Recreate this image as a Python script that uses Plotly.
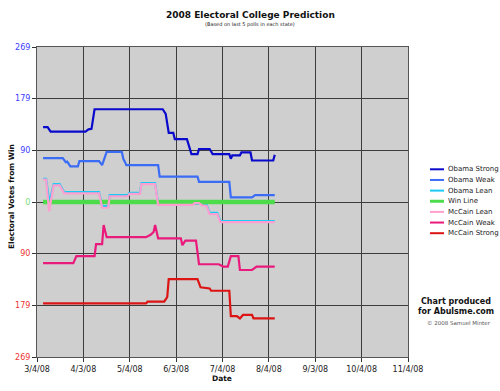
import plotly.graph_objects as go
from datetime import date, timedelta

# ---------------- data ----------------
series_names = ["Obama Strong", "Obama Weak", "Obama Lean", "Win Line",
                "McCain Lean", "McCain Weak", "McCain Strong"]

obama_strong_dates = ["2008-03-08", "2008-03-11", "2008-03-13", "2008-04-05", "2008-04-07", "2008-04-09",
                      "2008-04-11", "2008-05-26", "2008-05-28", "2008-05-30", "2008-06-02", "2008-06-03",
                      "2008-06-11", "2008-06-14", "2008-06-18", "2008-06-19", "2008-06-26", "2008-06-28",
                      "2008-07-09", "2008-07-10", "2008-07-11", "2008-07-16", "2008-07-17", "2008-07-23",
                      "2008-07-24", "2008-08-07", "2008-08-08"]
obama_strong_values = [130, 130, 122, 122, 126, 127, 161, 161, 153, 120, 120, 109,
                       109, 83, 83, 92, 92, 83, 83, 75, 81, 81, 86, 86, 72, 72, 82]

obama_weak_dates = ["2008-03-08", "2008-03-21", "2008-03-23", "2008-03-24", "2008-03-26", "2008-03-31",
                    "2008-04-01", "2008-04-14", "2008-04-16", "2008-04-19", "2008-04-29", "2008-04-30",
                    "2008-05-01", "2008-05-02", "2008-05-23", "2008-05-24", "2008-06-18", "2008-06-19",
                    "2008-07-09", "2008-07-10", "2008-07-24", "2008-07-26", "2008-08-08"]
obama_weak_values = [76, 76, 69, 70, 62, 62, 71, 71, 64, 87, 87, 75, 70, 64, 64, 44, 44, 35,
                     35, 8, 8, 12, 12]

obama_lean_dates = ["2008-03-08", "2008-03-10", "2008-03-12", "2008-03-13", "2008-03-15", "2008-03-19",
                    "2008-03-22", "2008-04-14", "2008-04-16", "2008-04-20", "2008-04-21", "2008-05-03",
                    "2008-05-04", "2008-05-11", "2008-05-12", "2008-05-21", "2008-05-23", "2008-06-21",
                    "2008-06-24", "2008-06-26", "2008-07-01", "2008-07-03", "2008-08-08"]
obama_lean_values = [40, 40, 3, 8, 31, 31, 17, 17, -7, -7, 12, 12, 16, 16, 33, 33, -3, -3,
                     -5, -19, -19, -33, -33]

win_line_dates = ["2008-03-08", "2008-08-08"]
win_line_values = [0, 0]

mccain_lean_dates = ["2008-03-08", "2008-03-10", "2008-03-12", "2008-03-13", "2008-03-15", "2008-03-19",
                     "2008-03-22", "2008-04-14", "2008-04-16", "2008-04-20", "2008-04-21", "2008-05-03",
                     "2008-05-04", "2008-05-11", "2008-05-12", "2008-05-21", "2008-05-23", "2008-06-15",
                     "2008-06-16", "2008-06-19", "2008-06-21", "2008-06-24", "2008-06-26", "2008-07-01",
                     "2008-07-03", "2008-08-08"]
mccain_lean_values = [39, 39, -16, 2, 29, 29, 15, 15, -10, -10, 10, 10, 14, 14, 31, 31, -5, -5,
                      -2, -2, -6, -7, -21, -21, -35, -35]

mccain_weak_dates = ["2008-03-08", "2008-03-28", "2008-03-30", "2008-04-11", "2008-04-12", "2008-04-16",
                     "2008-04-17", "2008-04-19", "2008-05-15", "2008-05-18", "2008-05-20", "2008-05-21",
                     "2008-05-23", "2008-06-07", "2008-06-08", "2008-06-10", "2008-06-17", "2008-06-19",
                     "2008-07-02", "2008-07-05", "2008-07-08", "2008-07-10", "2008-07-15", "2008-07-16",
                     "2008-07-24", "2008-07-27", "2008-08-08"]
mccain_weak_values = [-106, -106, -94, -94, -73, -73, -40, -61, -61, -57, -52, -40,
                      -63, -63, -75, -67, -67, -108, -108, -112, -112, -94, -94, -118,
                      -118, -112, -112]

mccain_strong_dates = ["2008-03-08", "2008-05-15", "2008-05-16", "2008-05-27", "2008-05-29", "2008-05-30",
                       "2008-06-18", "2008-06-20", "2008-06-26", "2008-06-27", "2008-07-09", "2008-07-10",
                       "2008-07-14", "2008-07-16", "2008-07-18", "2008-07-24", "2008-07-25", "2008-08-08"]
mccain_strong_values = [-176, -176, -173, -173, -165, -134, -134, -148, -150, -154, -154, -198,
                        -198, -202, -196, -196, -202, -202]

x_tick_labels = ["3/4/08", "4/3/08", "5/4/08", "6/3/08", "7/4/08", "8/4/08", "9/3/08", "10/4/08", "11/4/08"]
y_tick_values = [269, 179.33, 89.67, 0, -89.67, -179.33, -269]
y_tick_labels = ["269", "179", "90", "0", "90", "179", "269"]

# ---------------- styling ----------------
colors = ["#0a0acc", "#3a6cf6", "#1ccaf6", "#4cdc4c", "#ff9fd0", "#ea1a7c", "#dc1414"]
widths = [2.2, 2.2, 2.2, 4.5, 2.2, 2.2, 2.2]
label_colors = ["#3b3bff", "#3b3bff", "#3b3bff", "#7ce07c", "#ee3333", "#ee3333", "#ee3333"]

all_dates = [obama_strong_dates, obama_weak_dates, obama_lean_dates, win_line_dates,
             mccain_lean_dates, mccain_weak_dates, mccain_strong_dates]
all_values = [obama_strong_values, obama_weak_values, obama_lean_values, win_line_values,
              mccain_lean_values, mccain_weak_values, mccain_strong_values]

FONT = "DejaVu Sans"

fig = go.Figure()
for name, d, v, c, w in zip(series_names, all_dates, all_values, colors, widths):
    fig.add_trace(go.Scatter(x=d, y=v, mode="lines", name=name,
                             line=dict(color=c, width=w), showlegend=False))

start = date(2008, 3, 4)
span = (date(2008, 11, 4) - start).days
tickvals = []
for i in range(9):
    d = span * i / 8
    base = start + timedelta(days=int(d))
    hours = int(round((d - int(d)) * 24))
    tickvals.append(f"{base.isoformat()} {hours:02d}:00")

# plot area geometry in pixels
L, R, T, B = 37, 408, 47, 357
W, H = 500, 391


def px(x):
    return (x - L) / (R - L)


def py(y):
    return (B - y) / (B - T)


grid = "#3c3c3c"
fig.update_layout(
    width=W, height=H,
    margin=dict(l=L, r=W - R, t=T, b=H - B, pad=0),
    paper_bgcolor="white", plot_bgcolor="#cfcfcf",
    font=dict(family=FONT, size=8, color="#222"),
    xaxis=dict(type="date", range=[tickvals[0], tickvals[-1]],
               tickvals=tickvals, ticktext=x_tick_labels, automargin=False,
               showgrid=True, gridcolor=grid, gridwidth=1,
               showline=True, linecolor="#555", linewidth=1, mirror=True,
               ticks="outside", ticklen=4, tickcolor="#333",
               tickfont=dict(size=8, family=FONT, color="#222"), zeroline=False),
    yaxis=dict(range=[-269, 269], tickvals=y_tick_values, automargin=False,
               ticktext=[f"<span style='color:{c}'>{t}</span>" for t, c in zip(y_tick_labels, label_colors)],
               showgrid=True, gridcolor=grid, gridwidth=1,
               showline=True, linecolor="#555", linewidth=1, mirror=True,
               ticks="outside", ticklen=4, tickcolor="#333",
               tickfont=dict(size=8, family=FONT), zeroline=False),
)

ann = []
ann.append(dict(text="<b>2008 Electoral College Prediction</b>", x=px(250), y=py(15),
                font=dict(size=9, family=FONT, color="#111")))
ann.append(dict(text="(Based on last 5 polls in each state)", x=px(250), y=py(24.5),
                font=dict(size=5, family=FONT, color="#222")))
ann.append(dict(text="<b>Electoral Votes from Win</b>", x=px(11), y=py(197), textangle=-90,
                font=dict(size=7.5, family=FONT, color="#111")))
ann.append(dict(text="<b>Date</b>", x=px(222), y=py(378),
                font=dict(size=7.5, family=FONT, color="#111")))
ann.append(dict(text="<b>Chart produced</b>", x=px(456), y=py(301),
                font=dict(size=8, family=FONT, color="#111")))
ann.append(dict(text="<b>for Abulsme.com</b>", x=px(456), y=py(311),
                font=dict(size=8, family=FONT, color="#111")))
ann.append(dict(text="© 2008 Samuel Minter", x=px(459), y=py(323),
                font=dict(size=5.5, family=FONT, color="#555")))

shapes = []
for i, (name, c) in enumerate(zip(series_names, colors)):
    yy = 169.3 + i * 10.65
    shapes.append(dict(type="line", xref="paper", yref="paper",
                       x0=px(430), x1=px(444), y0=py(yy), y1=py(yy),
                       line=dict(color=c, width=2 if i != 3 else 3)))
    ann.append(dict(text=name, x=px(446), y=py(yy), xanchor="left",
                    font=dict(size=7, family=FONT, color="#222")))

for a in ann:
    a.setdefault("xanchor", "center")
    a.update(xref="paper", yref="paper", yanchor="middle", showarrow=False)

fig.update_layout(annotations=ann, shapes=shapes)
fig.write_html("out.html", config={"displayModeBar": False},
               post_script="document.body.style.margin='0px';")
